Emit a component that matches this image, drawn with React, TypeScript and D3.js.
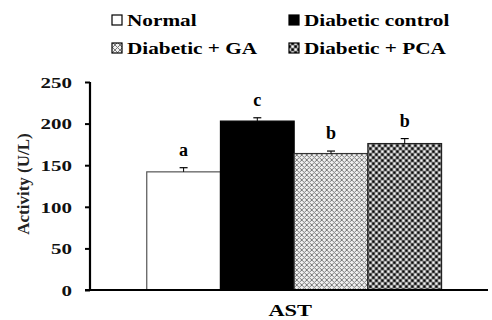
import React, { useEffect, useRef } from "react";
import * as d3 from "d3";

const groups = ["Normal", "Diabetic control", "Diabetic + GA", "Diabetic + PCA"];
const categories = ["AST"];
const values = [142, 203, 164, 176];
const errors = [5, 4, 3, 6];
const letters = ["a", "c", "b", "b"];
const yTicks = [0, 50, 100, 150, 200, 250];

const W = 492;
const H = 320;
const margin = { top: 82, right: 4, bottom: 30, left: 90 };
const font = "'Liberation Serif', 'Times New Roman', serif";

const fills = ["#ffffff", "#000000", "url(#pGA)", "url(#pPCA)"];
const strokes = ["#555555", "#000000", "#333333", "#222222"];

function App() {
  const ref = useRef<SVGSVGElement>(null);

  useEffect(() => {
    const svg = d3.select(ref.current);
    svg.selectAll("*").remove();

    const defs = svg.append("defs");
    const ga = defs
      .append("pattern")
      .attr("id", "pGA")
      .attr("patternUnits", "userSpaceOnUse")
      .attr("width", 5)
      .attr("height", 5);
    ga.append("rect").attr("width", 5).attr("height", 5).attr("fill", "#f0f0f0");
    ga.append("path").attr("d", "M0,0 L5,5 M5,0 L0,5").attr("stroke", "#7a7a7a").attr("stroke-width", 1);

    const pca = defs
      .append("pattern")
      .attr("id", "pPCA")
      .attr("patternUnits", "userSpaceOnUse")
      .attr("width", 6)
      .attr("height", 6);
    pca.append("rect").attr("width", 6).attr("height", 6).attr("fill", "#7a7a7a");
    pca.append("rect").attr("x", 0.5).attr("y", 0.5).attr("width", 2.2).attr("height", 2.2).attr("fill", "#fff");
    pca.append("rect").attr("x", 3.5).attr("y", 0.5).attr("width", 2.2).attr("height", 2.2).attr("fill", "#000");
    pca.append("rect").attr("x", 0.5).attr("y", 3.5).attr("width", 2.2).attr("height", 2.2).attr("fill", "#000");
    pca.append("rect").attr("x", 3.5).attr("y", 3.5).attr("width", 2.2).attr("height", 2.2).attr("fill", "#fff");

    const x0 = d3
      .scaleBand()
      .domain(categories)
      .range([margin.left, W - margin.right])
      .paddingOuter(0.175)
      .align(0.55);
    const x1 = d3.scaleBand().domain(groups).range([0, x0.bandwidth()]);
    const y = d3.scaleLinear().domain([0, 250]).range([H - margin.bottom, margin.top]);

    // bars
    const g = svg.append("g").attr("transform", `translate(${x0("AST")},0)`);
    groups.forEach((name, i) => {
      g.append("rect")
        .attr("x", x1(name)!)
        .attr("y", y(values[i]))
        .attr("width", x1.bandwidth())
        .attr("height", y(0) - y(values[i]))
        .attr("fill", fills[i])
        .attr("stroke", strokes[i])
        .attr("stroke-width", 1.2);
      const cx = x1(name)! + x1.bandwidth() / 2;
      g.append("line")
        .attr("x1", cx)
        .attr("x2", cx)
        .attr("y1", y(values[i]))
        .attr("y2", y(values[i] + errors[i]))
        .attr("stroke", "#000")
        .attr("stroke-width", 1);
      g.append("line")
        .attr("x1", cx - 4)
        .attr("x2", cx + 4)
        .attr("y1", y(values[i] + errors[i]))
        .attr("y2", y(values[i] + errors[i]))
        .attr("stroke", "#000")
        .attr("stroke-width", 1.2);
      g.append("text")
        .attr("x", cx)
        .attr("y", y(values[i] + errors[i]) - 12)
        .attr("text-anchor", "middle")
        .attr("font-family", font)
        .attr("font-weight", "bold")
        .attr("font-size", 18)
        .text(letters[i]);
    });

    // y axis
    const yAxis = svg
      .append("g")
      .attr("transform", `translate(${margin.left},0)`)
      .call(d3.axisLeft(y).tickValues(yTicks).tickSize(5).tickPadding(0).tickFormat(d3.format("d")));
    yAxis.select(".domain").attr("stroke-width", 2.2).attr("d", `M0,${y(250)}V${y(0)}`);
    yAxis.selectAll(".tick line").attr("stroke-width", 2);
    yAxis
      .selectAll<SVGTextElement, number>(".tick text")
      .attr("font-family", font)
      .attr("font-weight", "bold")
      .attr("font-size", 15)
      .attr("fill", "#111")
      .attr("x", 0)
      .attr("dy", "0.35em")
      .attr("text-anchor", "end")
      .attr("transform", "translate(-18,0) scale(1.4,1)");

    // x axis
    svg
      .append("line")
      .attr("x1", margin.left - 5)
      .attr("x2", W - margin.right)
      .attr("y1", y(0))
      .attr("y2", y(0))
      .attr("stroke", "#000")
      .attr("stroke-width", 2.2);

    svg
      .append("text")
      .attr("transform", `translate(${x0("AST")! + x0.bandwidth() / 2 - 4},${H - 4}) scale(1.4,1)`)
      .attr("text-anchor", "middle")
      .attr("font-family", font)
      .attr("font-weight", "bold")
      .attr("font-size", 16)
      .text("AST");

    svg
      .append("text")
      .attr("transform", `translate(29,${(y(0) + y(250)) / 2 - 2}) rotate(-90)`)
      .attr("text-anchor", "middle")
      .attr("font-family", font)
      .attr("font-weight", "bold")
      .attr("font-size", 17)
      .attr("fill", "#222")
      .text("Activity (U/L)");

    // legend
    const legendPos = [
      [112, 15],
      [289, 15],
      [112, 43],
      [289, 43],
    ];
    const legendFills = ["#ffffff", "#000000", "url(#pGA)", "url(#pPCA)"];
    groups.forEach((name, i) => {
      const [lx, ly] = legendPos[i];
      svg
        .append("rect")
        .attr("x", lx)
        .attr("y", ly)
        .attr("width", 10)
        .attr("height", 10)
        .attr("fill", legendFills[i])
        .attr("stroke", "#000")
        .attr("stroke-width", 1.2);
      svg
        .append("text")
        .attr("transform", `translate(${lx + 15},${ly + 11}) scale(1.25,1)`)
        .attr("font-family", font)
        .attr("font-weight", "bold")
        .attr("font-size", 17)
        .text(name);
    });
  }, []);

  return (
    <svg
      ref={ref}
      width={W}
      height={H}
      style={{ position: "absolute", left: 0, top: 0, background: "#fff" }}
    />
  );
}

export default App;
